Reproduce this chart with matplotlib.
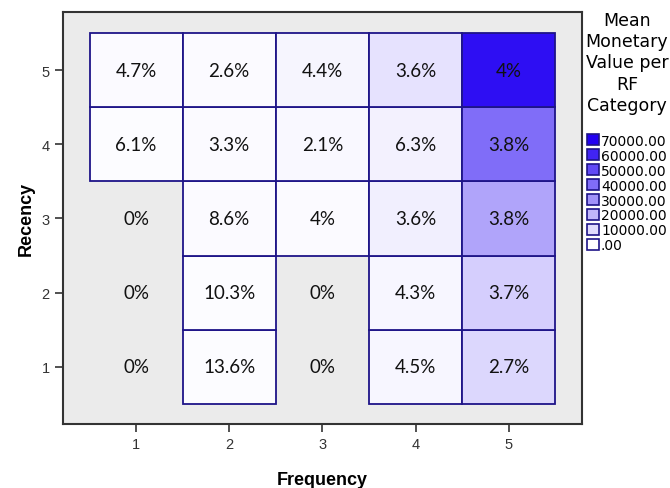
import numpy as np
import matplotlib
matplotlib.use("Agg")
import matplotlib.pyplot as plt
from matplotlib.colors import LinearSegmentedColormap, Normalize
from matplotlib.patches import Patch

frequency = [1, 2, 3, 4, 5]
recency = [1, 2, 3, 4, 5]

# percentage labels, rows = recency 1..5, cols = frequency 1..5
pct_labels = [
    ["0%", "13.6%", "0%", "4.5%", "2.7%"],
    ["0%", "10.3%", "0%", "4.3%", "3.7%"],
    ["0%", "8.6%", "4%", "3.6%", "3.8%"],
    ["6.1%", "3.3%", "2.1%", "6.3%", "3.8%"],
    ["4.7%", "2.6%", "4.4%", "3.6%", "4%"],
]

# mean monetary value per RF cell (nan = empty cell)
mean_monetary = [
    [np.nan, 1000, np.nan, 2500, 11000],
    [np.nan, 1000, np.nan, 2500, 13500],
    [np.nan, 1500, 1500, 4500, 25000],
    [1000, 1500, 2000, 4000, 40000],
    [1500, 1500, 3000, 8000, 66000],
]

legend_levels = [70000, 60000, 50000, 40000, 30000, 20000, 10000, 0]
legend_labels = ["70000.00", "60000.00", "50000.00", "40000.00",
                 "30000.00", "20000.00", "10000.00", ".00"]

cmap = LinearSegmentedColormap.from_list("wb", ["#ffffff", "#2200f2"])
norm = Normalize(vmin=0, vmax=70000)
edge = "#1e1488"

fig = plt.figure(figsize=(6.7, 4.89), dpi=100)
ax = fig.add_axes([0.094, 0.131, 0.775, 0.842])
ax.set_facecolor("#ebebeb")

# one bar per filled cell; empty cells are left as background
for i, r in enumerate(recency):
    for j, f in enumerate(frequency):
        v = mean_monetary[i][j]
        if not np.isnan(v):
            ax.bar(f, 1, bottom=r - 0.5, width=1, color=cmap(norm(v)),
                   edgecolor=edge, linewidth=1.3, zorder=2)
        ax.text(f, r, pct_labels[i][j], ha="center", va="center",
                fontsize=13.5, family="Lato", color="#111111", zorder=3)

ax.set_xlim(0.215, 5.79)
ax.set_ylim(0.23, 5.78)
ax.set_xticks(frequency)
ax.set_yticks(recency)
ax.tick_params(length=6, width=1.2, color="#333333", labelsize=10.5,
               labelcolor="#333333", direction="out")
for lab in ax.get_xticklabels() + ax.get_yticklabels():
    lab.set_family("Liberation Sans")
for s in ax.spines.values():
    s.set_linewidth(1.5)
    s.set_color("#333333")

ax.set_xlabel("Frequency", fontsize=13, fontweight="bold",
              family="Liberation Sans", labelpad=14)
ax.set_ylabel("Recency", fontsize=13, fontweight="bold",
              family="Liberation Sans", labelpad=5)

handles = [Patch(facecolor=cmap(norm(v)), edgecolor=edge, linewidth=1.2)
           for v in legend_levels]
leg = fig.legend(handles, legend_labels,
                 title="Mean\nMonetary\nValue per\nRF\nCategory",
                 loc="upper left", bbox_to_anchor=(0.874, 0.976),
                 frameon=False, handlelength=0.85, handleheight=0.85,
                 handletextpad=0.15, labelspacing=0.07, borderaxespad=0,
                 borderpad=0.0,
                 prop={"family": "DejaVu Sans", "size": 10},
                 title_fontproperties={"family": "DejaVu Sans", "size": 12.5})
leg.get_title().set_multialignment("center")
leg.get_title().set_linespacing(1.24)
leg._legend_box.sep = 14

fig.savefig("out.png", dpi=100)
